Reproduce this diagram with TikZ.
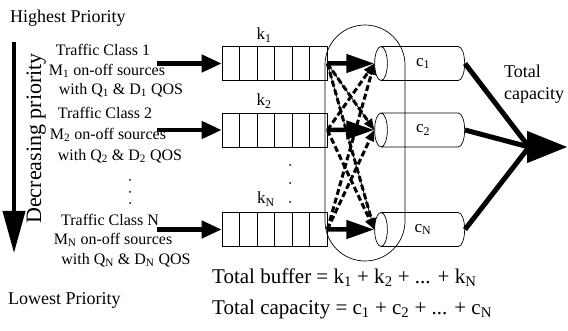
\documentclass[tikz,border=0pt]{standalone}
\usepackage{fontspec}
\setmainfont{Liberation Serif}
\usetikzlibrary{shapes.geometric,arrows.meta,calc}
\begin{document}
\begin{tikzpicture}[x=1pt,y=-1pt,
  lbl/.style={inner sep=0pt, font=\fontsize{16}{18}\selectfont},
  big/.style={inner sep=0pt, font=\fontsize{18}{22}\selectfont},
  total/.style={inner sep=0pt, anchor=west, font=\fontsize{21}{24}\selectfont},
  queuebox/.style={draw, line width=0.7pt, minimum width=105pt, minimum height=34pt, inner sep=0pt},
  cyl/.style={cylinder, shape border rotate=180, draw, line width=0.7pt, aspect=1.2, minimum height=90pt, minimum width=34pt, inner sep=0pt, font=\fontsize{17}{19}\selectfont},
  klbl/.style={inner sep=0pt, font=\fontsize{17}{19}\selectfont},
  inarrow/.style={line width=4.5pt, -{Triangle[length=20pt,width=17pt]}},
  fwd/.style={line width=4.5pt, -{Triangle[length=28pt,width=18pt]}},
  cross/.style={line width=3pt, dash pattern=on 6pt off 3pt, -{Triangle[length=11pt,width=9pt]}},
  thinl/.style={line width=0.8pt},
  outl/.style={line width=5pt},
  dotn/.style={circle, fill, inner sep=0pt, minimum size=2pt},
]
\useasboundingbox (0,0) rectangle (568,331);

% left side
\node[big, anchor=base west] (hp) at (10,23) {Highest Priority};
\node[big, anchor=base west] (lp) at (8,305) {Lowest Priority};
\coordinate (vtop) at (14,42);
\coordinate (vbot) at (14,253);
\draw[line width=4pt, -{Triangle[length=42pt,width=22pt]}] (vtop) -- (vbot);
\node[inner sep=0pt, font=\fontsize{22}{24}\selectfont, rotate=90, anchor=base] (dp) at (41,138.5) {Decreasing priority};

% traffic classes
\node[lbl] (t1a) at (103,50) {Traffic Class 1};
\node[lbl] (t1b) at (107,71) {M\textsubscript{1} on-off sources};
\node[lbl] (t1c) at (121,90) {with Q\textsubscript{1} \& D\textsubscript{1} QOS};
\node[lbl] (t2a) at (105,113) {Traffic Class 2};
\node[lbl] (t2b) at (108,135) {M\textsubscript{2} on-off sources};
\node[lbl] (t2c) at (120,156) {with Q\textsubscript{2} \& D\textsubscript{2} QOS};
\node[dotn] (ld1) at (130,180) {};
\node[dotn] (ld2) at (130,192) {};
\node[dotn] (ld3) at (130,203) {};
\node[lbl] (tna) at (110,220) {Traffic Class N};
\node[lbl] (tnb) at (113,240) {M\textsubscript{N} on-off sources};
\node[lbl] (tnc) at (126,260) {with Q\textsubscript{N} \& D\textsubscript{N} QOS};

% multiplexer outline
\node[draw, line width=0.7pt, rounded corners=40pt, minimum width=80pt, minimum height=236pt] (mux) at (365,143) {};

% queues
\node[queuebox] (q1) at (274.5,63.5) {};
\node[queuebox] (q2) at (274.5,130) {};
\node[queuebox] (qN) at (274.5,229.5) {};
\foreach \q in {q1,q2,qN}
  \foreach \i in {1,...,5}
    \draw[line width=0.7pt] ($(\q.north west)!\i/6!(\q.north east)$) -- ($(\q.south west)!\i/6!(\q.south east)$);
\node[klbl] (k1) at (264,35) {k\textsubscript{1}};
\node[klbl] (k2) at (264,101) {k\textsubscript{2}};
\node[klbl] (kN) at (266,199) {k\textsubscript{N}};
\node[dotn] (qd1) at (290,165) {};
\node[dotn] (qd2) at (290,183) {};
\node[dotn] (qd3) at (290,202) {};

% input arrows
\coordinate (s1) at (157,63.5);
\coordinate (s2) at (157,130);
\coordinate (sN) at (157,229.5);
\draw[inarrow] (s1) -- (q1.west);
\draw[inarrow] (s2) -- (q2.west);
\draw[inarrow] (sN) -- (qN.west);

% capacities
\node[cyl] (c1) at (423,63.5) {c\textsubscript{1}};
\node[cyl] (c2) at (423,130) {c\textsubscript{2}};
\node[cyl] (cN) at (423,229.5) {c\textsubscript{N}};

% switching
\draw[thinl] (q1.east) -- (c2.west);
\draw[thinl] (q1.east) -- (cN.west);
\draw[cross] (q1.east) -- (c2.west);
\draw[cross] (q1.east) -- (cN.west);
\draw[cross] (q2.east) -- (c1.west);
\draw[cross] (q2.east) -- (cN.west);
\draw[cross] (qN.east) -- (c1.west);
\draw[cross] (qN.east) -- (c2.west);
\draw[fwd] (q1.east) -- (c1.west);
\draw[fwd] (q2.east) -- (c2.west);
\draw[fwd] (qN.east) -- (cN.west);

% total capacity
\coordinate (conv) at (529,147);
\coordinate (tip) at (567,147);
\draw[outl] (c1.east) -- (conv);
\draw[outl] (c2.east) -- (conv);
\draw[outl] (cN.east) -- (conv);
\draw[line width=1pt, -{Triangle[length=40pt,width=32pt]}] (conv) -- (tip);
\node[big, align=left, anchor=west] (tc) at (504,84) {Total\\capacity};

% totals
\node[total] (tb) at (212,278) {Total buffer = k\textsubscript{1} + k\textsubscript{2} + ... + k\textsubscript{N}};
\node[total] (tcap) at (212,309) {Total capacity = c\textsubscript{1} + c\textsubscript{2} + ... + c\textsubscript{N}};
\end{tikzpicture}
\end{document}
